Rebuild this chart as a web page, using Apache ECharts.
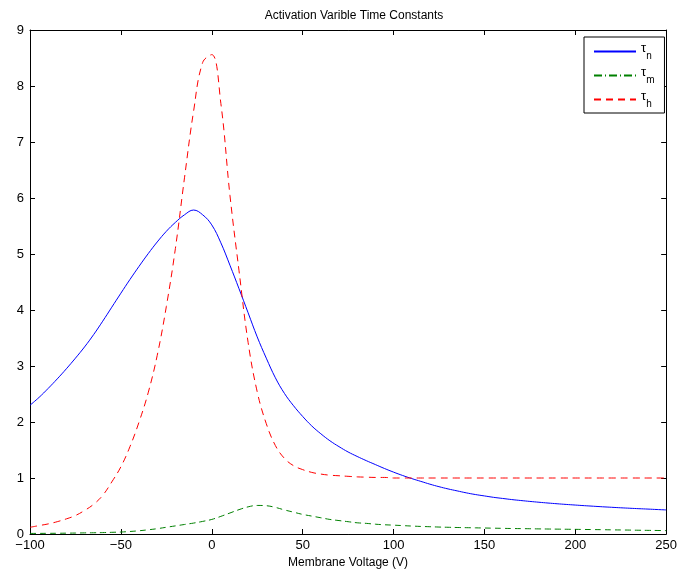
<!DOCTYPE html>
<html>
<head>
<meta charset="utf-8">
<script src="https://cdn.jsdelivr.net/npm/echarts@6/dist/echarts.min.js"></script>
<style>html,body{margin:0;padding:0;background:#fff}#c{width:680px;height:574px}</style>
</head>
<body>
<div id="c"></div>
<script>
// Membrane voltage samples (V), step 5
var voltage = [-100,-95,-90,-85,-80,-75,-70,-65,-60,-55,-50,-45,-40,-35,-30,-25,-20,-15,-10,-5,
  0,5,10,15,20,25,30,35,40,45,50,55,60,65,70,75,80,85,90,95,
  100,105,110,115,120,125,130,135,140,145,150,155,160,165,170,175,180,185,190,195,
  200,205,210,215,220,225,230,235,240,245,250];

// tau_n (blue, solid)
var tauN = [2.30,2.44,2.60,2.77,2.95,3.14,3.34,3.56,3.80,4.05,4.30,4.545,4.78,5.005,5.215,5.405,5.565,5.70,5.785,5.70,
  5.52,5.20,4.80,4.38,3.95,3.52,3.14,2.79,2.51,2.29,2.10,1.93,1.79,1.665,1.56,1.465,1.385,1.31,1.24,1.17,
  1.105,1.045,0.99,0.94,0.89,0.845,0.805,0.77,0.735,0.705,0.68,0.655,0.635,0.615,0.598,0.582,0.567,0.553,0.54,0.528,
  0.517,0.506,0.496,0.486,0.477,0.468,0.46,0.452,0.445,0.437,0.43];

// tau_m (green, dashed)
var tauM = [0.010,0.011,0.012,0.013,0.015,0.017,0.020,0.022,0.025,0.030,0.035,0.045,0.058,0.075,0.095,0.12,0.145,0.17,0.195,0.225,
  0.26,0.315,0.375,0.435,0.485,0.51,0.505,0.475,0.43,0.39,0.35,0.32,0.29,0.26,0.24,0.22,0.20,0.19,0.175,0.165,
  0.158,0.15,0.142,0.135,0.13,0.124,0.12,0.116,0.113,0.11,0.107,0.104,0.101,0.098,0.096,0.094,0.091,0.089,0.087,0.085,
  0.083,0.081,0.079,0.077,0.074,0.072,0.070,0.067,0.065,0.063,0.060];

// tau_h (red, dashed)
var tauH = [0.12,0.15,0.18,0.22,0.27,0.33,0.42,0.53,0.69,0.93,1.20,1.56,2.00,2.52,3.19,4.06,5.10,6.36,7.55,8.42,
  8.56,7.69,6.05,4.70,3.42,2.54,1.97,1.58,1.35,1.22,1.15,1.10,1.07,1.05,1.04,1.03,1.02,1.015,1.01,1.01,
  1.00,1.00,1.00,1.00,1.00,1.00,1.00,1.00,1.00,1.00,1.00,1.00,1.00,1.00,1.00,1.00,1.00,1.00,1.00,1.00,
  1.00,1.00,1.00,1.00,1.00,1.00,1.00,1.00,1.00,1.00,1.00];

var legendNames = ['τn','τm','τh'];
var seriesColors = ['#0000ff','#008000','#ff0000'];
var xTicks = [-100,-50,0,50,100,150,200,250];
var yTicks = [0,1,2,3,4,5,6,7,8,9];

function pairs(xs, ys){ return xs.map(function(x,i){ return [x, ys[i]]; }); }

var FONT = 'Liberation Sans, Arial, Helvetica, sans-serif';
var chart = echarts.init(document.getElementById('c'), null, {renderer:'canvas'});

var axisCommon = {
  axisLine:{show:true, onZero:false, lineStyle:{color:'#000', width:1}},
  axisTick:{show:true, inside:true, length:5, lineStyle:{color:'#000', width:1}},
  splitLine:{show:false}
};

chart.setOption({
  animation:false,
  backgroundColor:'#fff',
  title:{
    text:'Activation Varible Time Constants',
    left:349, top:5, textAlign:'center',
    textStyle:{fontFamily:FONT, fontSize:12, fontWeight:'normal', color:'#000'}
  },
  grid:{left:30, right:12, top:30, bottom:40, containLabel:false},
  legend:{
    orient:'vertical', left:584, top:37,
    padding:[5,10,4,9], itemGap:5, itemWidth:42, itemHeight:10,
    borderColor:'#000', borderWidth:1, backgroundColor:'#fff',
    selectedMode:false,
    itemStyle:{opacity:0},
    data:legendNames,
    formatter:function(name){ return '{t|τ}{s|' + name.slice(1) + '}'; },
    textStyle:{
      fontFamily:FONT, color:'#000',
      rich:{
        t:{fontFamily:FONT, fontSize:13, verticalAlign:'top', color:'#000'},
        s:{fontFamily:FONT, fontSize:10, verticalAlign:'top', padding:[9,0,0,0], color:'#000'}
      }
    }
  },
  xAxis:[
    Object.assign({
      type:'value', position:'bottom', min:-100, max:250, interval:50,
      name:'Membrane Voltage (V)', nameLocation:'middle', nameGap:22,
      nameTextStyle:{fontFamily:FONT, fontSize:12, color:'#000'},
      axisLabel:{fontFamily:FONT, fontSize:13, color:'#000', margin:5,
        formatter:function(v){ return (xTicks.indexOf(v) >= 0 ? String(v).replace('-', '\u2212') : ''); }}
    }, axisCommon),
    Object.assign({
      type:'value', position:'top', min:-100, max:250, interval:50,
      axisLabel:{show:false}
    }, axisCommon)
  ],
  yAxis:[
    Object.assign({
      type:'value', position:'left', min:0, max:9, interval:1,
      axisLabel:{fontFamily:FONT, fontSize:13, color:'#000', margin:6,
        formatter:function(v){ return yTicks.indexOf(v) >= 0 ? String(v) : ''; }}
    }, axisCommon),
    Object.assign({
      type:'value', position:'right', min:0, max:9, interval:1,
      axisLabel:{show:false}
    }, axisCommon)
  ],
  series:[
    {name:legendNames[0], type:'line', data:pairs(voltage, tauN), showSymbol:false, symbol:'none',
     smooth:0.4, lineStyle:{color:seriesColors[0], width:1}, itemStyle:{color:seriesColors[0]}},
    {name:'tauM-curve', type:'line', data:pairs(voltage, tauM), showSymbol:false, symbol:'none',
     smooth:0.4, lineStyle:{color:seriesColors[1], width:1, type:[6,4]}, itemStyle:{color:seriesColors[1]}},
    {name:legendNames[1], type:'line', data:[], showSymbol:false, symbol:'none',
     lineStyle:{color:seriesColors[1], width:1, type:[8,3,1,3]}, itemStyle:{color:seriesColors[1]}},
    {name:legendNames[2], type:'line', data:pairs(voltage, tauH), showSymbol:false, symbol:'none',
     smooth:0.4, lineStyle:{color:seriesColors[2], width:1, type:[7,5]}, itemStyle:{color:seriesColors[2]}}
  ]
});
</script>
</body>
</html>
